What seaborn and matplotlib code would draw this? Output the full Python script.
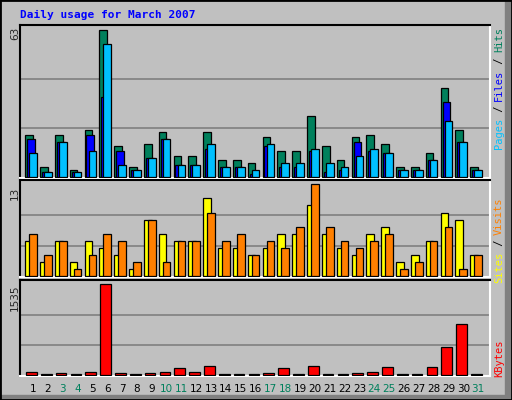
import matplotlib
matplotlib.use("Agg")
import matplotlib.pyplot as plt
import seaborn as sns
import numpy as np

days = list(range(1, 32))
hits  = [18,4,18,3,20,63,13,4,14,19,9,9,19,7,7,6,17,11,11,26,13,7,17,18,14,4,4,10,38,20,4]
files = [16,2,15,2,18,34,11,3,8,16,5,5,12,4,4,1,13,4,4,11,2,3,15,11,10,3,3,7,32,15,3]
pages = [10,2,15,2,11,57,5,3,8,16,5,5,14,4,4,3,14,6,6,12,6,4,9,12,10,3,3,7,24,15,3]
sites  = [5,2,5,2,5,4,3,1,8,6,5,5,11,4,4,3,4,6,6,10,6,4,3,6,7,2,3,5,9,8,3]
visits = [6,3,5,1,3,6,5,2,8,2,5,5,9,5,6,3,5,4,7,13,7,5,4,5,6,1,2,5,7,1,3]
kbytes = [51,25,34,25,51,1535,34,25,34,51,118,51,157,25,25,25,34,118,25,157,25,25,34,51,135,25,25,135,478,860,25]
weekend = {3,4,10,11,17,18,24,25,31}

sns.set_style("white")
BG = "#c0c0c0"
fig = plt.figure(figsize=(5.12, 4.0), dpi=100, facecolor=BG)
W, H = 512, 400
def axpos(top, bottom):
    return [20/W, (H-bottom)/H, 470/W, (bottom-top)/H]

d = np.array(days, dtype=float)
def bars(ax, off, vals, color, width):
    sns.barplot(x=d+off, y=vals, native_scale=True, ax=ax, color=color,
                width=width, edgecolor="black", linewidth=0.9, saturation=1)

def style(ax, top):
    ax.set_facecolor(BG)
    ax.set_xlim(0.12, 31.8)
    ax.set_ylim(-top*0.008, top)
    for s in ["top", "left"]:
        ax.spines[s].set_color("black"); ax.spines[s].set_linewidth(1.5)
    for s in ["bottom", "right"]:
        ax.spines[s].set_color("white"); ax.spines[s].set_linewidth(1.5)
    for s in ax.spines.values():
        s.set_zorder(0.5)
    ax.set_xticks([]); ax.set_yticks([])
    ax.set_xlabel(""); ax.set_ylabel("")

ax1 = fig.add_axes(axpos(25, 178))
for g in (21, 42):
    ax1.axhline(g, color="#808080", lw=1.2, zorder=0)
bars(ax1, -0.27, hits, "#00805c", 0.52)
bars(ax1, -0.14, files, "#0000ff", 0.52)
bars(ax1, 0.0, pages, "#00c0ff", 0.52)
style(ax1, 65)

ax2 = fig.add_axes(axpos(180, 277))
for g in (13/3, 26/3):
    ax2.axhline(g, color="#808080", lw=1.2, zorder=0)
bars(ax2, -0.27, sites, "#ffff00", 0.52)
bars(ax2, 0.0, visits, "#ff8000", 0.52)
style(ax2, 13.6)

ax3 = fig.add_axes(axpos(280, 376))
for g in (1535/3, 2*1535/3):
    ax3.axhline(g, color="#808080", lw=1.2, zorder=0)
bars(ax3, -0.11, kbytes, "#ff0000", 0.72)
style(ax3, 1607)

fig.patches.append(plt.Rectangle((0, 0), 1, 1, transform=fig.transFigure, fill=False,
                                 edgecolor="black", lw=2))
fig.patches.append(plt.Rectangle((505/W, 0), 7/W, 1, transform=fig.transFigure,
                                 color="#808080", zorder=-1))
fig.patches.append(plt.Rectangle((0, 0), 1, 5/H, transform=fig.transFigure,
                                 color="#808080", zorder=-1))

mono = "DejaVu Sans Mono"
fig.text(20/W, 1-15/H, "Daily usage for March 2007", color="#0000ff", fontsize=8,
         fontweight="bold", family=mono, va="center", ha="left")
fig.text(15/W, 1-33/H, "63", rotation=90, fontsize=7.5, va="center", ha="center")
fig.text(15/W, 1-193/H, "13", rotation=90, fontsize=7.5, va="center", ha="center")
fig.text(15/W, 1-298/H, "1535", rotation=90, fontsize=7.5, va="center", ha="center")

def rlab(parts, y_top):
    y = y_top
    for txt, col in parts:
        h = len(txt) * 6.0
        fig.text(499/W, 1-(y + h/2)/H, txt, rotation=90, color=col, fontsize=7.5,
                 family=mono, va="center", ha="center")
        y += h
rlab([("Hits", "#00805c"), (" / ", "black"), ("Files", "#0000ff"),
      (" / ", "black"), ("Pages", "#00c0ff")], 28)
rlab([("Visits", "#ff8000"), (" / ", "black"), ("Sites", "#ffff00")], 198)
rlab([("KBytes", "#ff0000")], 340)

for day in days:
    x = (33 + (day-1)*14.84)/W
    fig.text(x, 1-389/H, str(day), fontsize=7.5, ha="center", va="center",
             color="#00805c" if day in weekend else "black")

fig.savefig("out.png", dpi=100, facecolor=BG)
